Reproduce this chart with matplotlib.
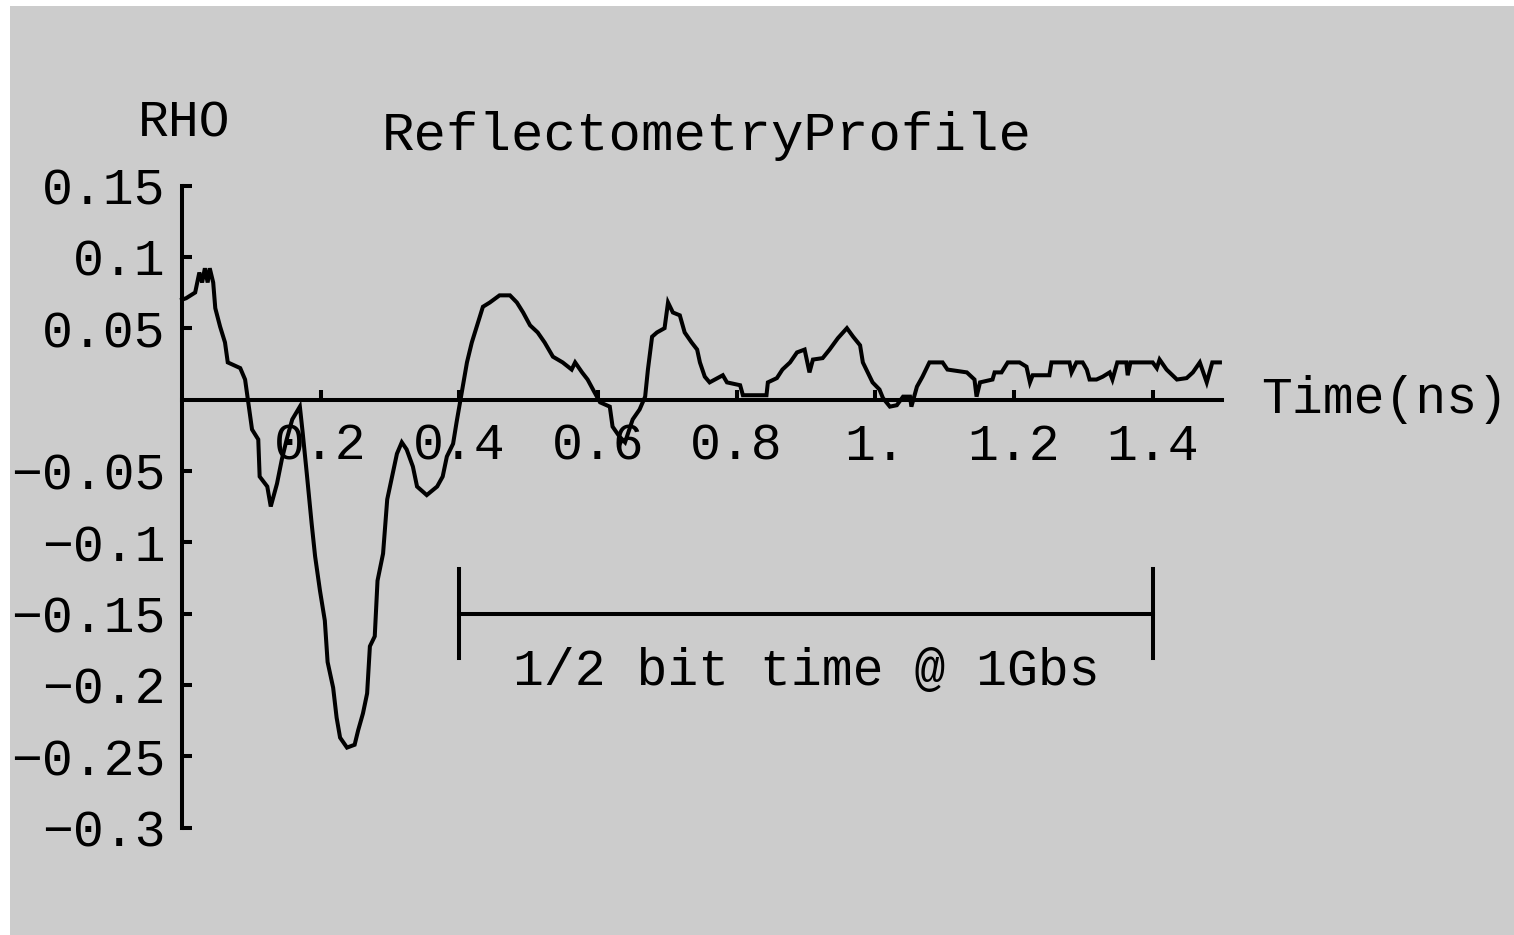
import matplotlib
matplotlib.use("Agg")
import matplotlib.pyplot as plt
from matplotlib.patches import Rectangle

# ---- data ----
time_ns = [0.000, 0.006, 0.019, 0.025, 0.029, 0.033, 0.037, 0.040, 0.045, 0.048,
           0.055, 0.062, 0.066, 0.084, 0.091, 0.095, 0.101, 0.110, 0.112, 0.123,
           0.128, 0.137, 0.144, 0.151, 0.159, 0.170, 0.174, 0.180, 0.187, 0.192,
           0.199, 0.206, 0.210, 0.218, 0.223, 0.228, 0.238, 0.249, 0.254, 0.261,
           0.267, 0.271, 0.278, 0.282, 0.290, 0.296, 0.303, 0.310, 0.317, 0.324,
           0.333, 0.339, 0.353, 0.368, 0.376, 0.382, 0.391, 0.396, 0.401, 0.411,
           0.418, 0.425, 0.434, 0.444, 0.458, 0.473, 0.483, 0.492, 0.502, 0.513,
           0.523, 0.535, 0.549, 0.562, 0.567, 0.577, 0.585, 0.595, 0.603, 0.617,
           0.621, 0.631, 0.639, 0.650, 0.660, 0.668, 0.672, 0.678, 0.685, 0.696,
           0.701, 0.708, 0.718, 0.725, 0.735, 0.743, 0.747, 0.754, 0.761, 0.780,
           0.786, 0.805, 0.809, 0.843, 0.845, 0.858, 0.866, 0.877, 0.887, 0.898,
           0.905, 0.910, 0.924, 0.934, 0.946, 0.959, 0.968, 0.978, 0.982, 0.989,
           0.996, 1.006, 1.011, 1.021, 1.031, 1.040, 1.050, 1.052, 1.060, 1.068,
           1.078, 1.097, 1.104, 1.132, 1.143, 1.146, 1.151, 1.169, 1.172, 1.182,
           1.191, 1.208, 1.218, 1.223, 1.227, 1.251, 1.254, 1.280, 1.283, 1.290,
           1.299, 1.305, 1.309, 1.319, 1.328, 1.338, 1.342, 1.349, 1.362, 1.364,
           1.368, 1.400, 1.406, 1.410, 1.420, 1.435, 1.449, 1.458, 1.468, 1.478,
           1.486, 1.497]
rho = [0.070, 0.071, 0.075, 0.089, 0.082, 0.092, 0.082, 0.092, 0.082, 0.064,
       0.051, 0.040, 0.026, 0.022, 0.014, 0.000, -0.021, -0.028, -0.054, -0.061,
       -0.075, -0.059, -0.042, -0.028, -0.014, -0.005, -0.023, -0.052, -0.087, -0.110,
       -0.134, -0.155, -0.184, -0.202, -0.223, -0.237, -0.244, -0.242, -0.232, -0.220,
       -0.206, -0.173, -0.166, -0.127, -0.108, -0.070, -0.054, -0.038, -0.030, -0.035,
       -0.047, -0.061, -0.067, -0.061, -0.054, -0.040, -0.031, -0.016, -0.002, 0.026,
       0.040, 0.051, 0.065, 0.068, 0.073, 0.073, 0.068, 0.061, 0.052, 0.047,
       0.040, 0.030, 0.026, 0.021, 0.026, 0.019, 0.014, 0.005, -0.002, -0.005,
       -0.019, -0.026, -0.030, -0.014, -0.007, 0.002, 0.021, 0.044, 0.047, 0.050,
       0.068, 0.061, 0.059, 0.047, 0.040, 0.035, 0.026, 0.016, 0.012, 0.017,
       0.012, 0.010, 0.003, 0.003, 0.012, 0.015, 0.021, 0.026, 0.033, 0.035,
       0.019, 0.028, 0.029, 0.035, 0.043, 0.050, 0.044, 0.038, 0.026, 0.019,
       0.012, 0.007, 0.001, -0.005, -0.004, 0.002, 0.002, -0.005, 0.009, 0.016,
       0.026, 0.026, 0.021, 0.019, 0.014, 0.002, 0.012, 0.014, 0.019, 0.019,
       0.026, 0.026, 0.023, 0.012, 0.017, 0.017, 0.026, 0.026, 0.019, 0.026,
       0.026, 0.021, 0.014, 0.014, 0.016, 0.019, 0.014, 0.026, 0.026, 0.017,
       0.026, 0.026, 0.022, 0.028, 0.021, 0.014, 0.015, 0.019, 0.026, 0.012,
       0.026, 0.026]

x_ticks = [0.2, 0.4, 0.6, 0.8, 1.0, 1.2, 1.4]
x_tick_labels = ["0.2", "0.4", "0.6", "0.8", "1.", "1.2", "1.4"]
y_ticks = [-0.3, -0.25, -0.2, -0.15, -0.1, -0.05, 0.05, 0.1, 0.15]
y_tick_labels = ["\u22120.3", "\u22120.25", "\u22120.2", "\u22120.15", "\u22120.1",
                 "\u22120.05", "0.05", "0.1", "0.15"]

bracket_x = [0.4, 1.4]
bracket_y = -0.15
bracket_half = 0.031
bracket_label = "1/2 bit time @ 1Gbs"

title = "ReflectometryProfile"
y_label = "RHO"
x_label = "Time(ns)"

# ---- figure ----
W, H = 1514, 935
fig = plt.figure(figsize=(W / 100, H / 100), dpi=100, facecolor="white")
bg = fig.add_axes([10 / W, 0, 1 - 10 / W, (H - 6) / H], zorder=-10)
bg.set_facecolor("#cccccc")
bg.set_axis_off()
bg.add_patch(Rectangle((0, 0), 1, 1, transform=bg.transAxes,
                       facecolor="#cccccc", edgecolor="none"))

ax = fig.add_axes([182 / W, (H - 827.5) / H, 1040 / W, 642 / H], zorder=1)
ax.set_facecolor("none")
ax.set_xlim(0, 1.5)
ax.set_ylim(-0.3, 0.15)

FONT = "Liberation Mono"
FS = 37

for s in ("top", "right"):
    ax.spines[s].set_visible(False)
ax.spines["bottom"].set_position(("data", 0))
for s in ("left", "bottom"):
    ax.spines[s].set_linewidth(2.9)
    ax.spines[s].set_color("black")

ax.set_xticks(x_ticks)
ax.set_xticklabels(x_tick_labels, fontfamily=FONT, fontsize=FS)
ax.set_yticks(y_ticks)
ax.set_yticklabels(y_tick_labels, fontfamily=FONT, fontsize=FS)
ax.tick_params(axis="x", direction="in", length=7, width=2.9, pad=16, colors="black")
ax.tick_params(axis="y", direction="in", length=7, width=2.9, pad=12, colors="black")

ax.plot(time_ns, rho, color="black", linewidth=2.9, clip_on=False,
        solid_joinstyle="miter")

# bracket annotation
ax.plot(bracket_x, [bracket_y, bracket_y], color="black", linewidth=2.9, clip_on=False)
for bx in bracket_x:
    ax.plot([bx, bx], [bracket_y + bracket_half, bracket_y - bracket_half],
            color="black", linewidth=2.9, clip_on=False)
ax.text((bracket_x[0] + bracket_x[1]) / 2, -0.191, bracket_label,
        fontfamily=FONT, fontsize=FS, ha="center", va="center")

# labels
ax.text(0.757, 0.185, title, fontfamily=FONT, fontsize=39, ha="center", va="center",
        clip_on=False)
ax.text(0.003, 0.194, y_label, fontfamily=FONT, fontsize=FS, ha="center", va="center",
        clip_on=False)
ax.text(1.557, 0.0, x_label, fontfamily=FONT, fontsize=FS, ha="left", va="center",
        clip_on=False)

fig.savefig("out.png", dpi=100, facecolor="white")
